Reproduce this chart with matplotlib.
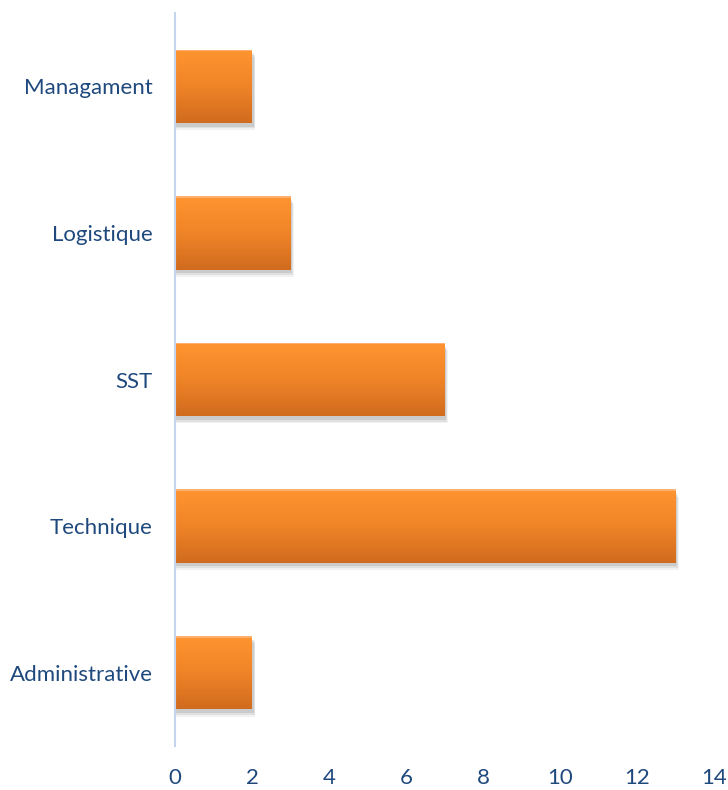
import matplotlib
matplotlib.use("Agg")
import matplotlib.pyplot as plt
import numpy as np
from matplotlib.colors import LinearSegmentedColormap
from matplotlib.patches import Rectangle

categories = ["Administrative", "Technique", "SST", "Logistique", "Managament"]
values = [2, 13, 7, 3, 2]
xticks = [0, 2, 4, 6, 8, 10, 12, 14]

text_color = "#1F497D"
plt.rcParams['font.family'] = ['Lato', 'DejaVu Sans']

fig = plt.figure(figsize=(7.28, 7.90), dpi=100)
ax = fig.add_axes([175/728, 1 - 746/790, (714-175)/728, (746-13)/790])

ypos = np.arange(len(categories))
bars = ax.barh(ypos, values, height=0.5, color="none", edgecolor="none", zorder=3)

cmap = LinearSegmentedColormap.from_list("g", ["#D06B1E", "#F08428", "#FF9530"])
grad = np.linspace(0, 1, 256).reshape(-1, 1)

for b in bars:
    x0, y0, w, h = b.get_x(), b.get_y(), b.get_width(), b.get_height()
    # shadow
    for i, a in enumerate([0.05, 0.07, 0.09]):
        off = 0.025 + 0.012 * (2 - i)
        sh = Rectangle((x0 + 0.02, y0 - off), w + 0.02 * (2 - i) + 0.03, h,
                       facecolor="black", edgecolor="none", alpha=a, zorder=2)
        ax.add_patch(sh)
    im = ax.imshow(grad, extent=[x0, x0 + w, y0, y0 + h], origin="lower",
                   cmap=cmap, aspect="auto", zorder=4)
    clip = Rectangle((x0, y0), w, h, transform=ax.transData)
    im.set_clip_path(clip)
    top = Rectangle((x0, y0 + h - 0.01), w, 0.01, facecolor="#FFB070",
                    edgecolor="none", zorder=5)
    ax.add_patch(top)

ax.set_xlim(0, 14)
ax.set_ylim(-0.5, 4.5)
ax.set_xticks(xticks)
ax.set_xticklabels([str(t) for t in xticks])
ax.set_yticks(ypos)
ax.set_yticklabels(categories)

for s in ["top", "right", "bottom"]:
    ax.spines[s].set_visible(False)
ax.spines["left"].set_color("#C5D5EC")
ax.spines["left"].set_linewidth(1.5)
ax.spines["left"].set_zorder(6)

ax.tick_params(axis="both", length=0, labelsize=16, colors=text_color)
ax.tick_params(axis="x", pad=16)
ax.tick_params(axis="y", pad=16)
ax.set_facecolor("white")

fig.savefig("out.png", dpi=100)
